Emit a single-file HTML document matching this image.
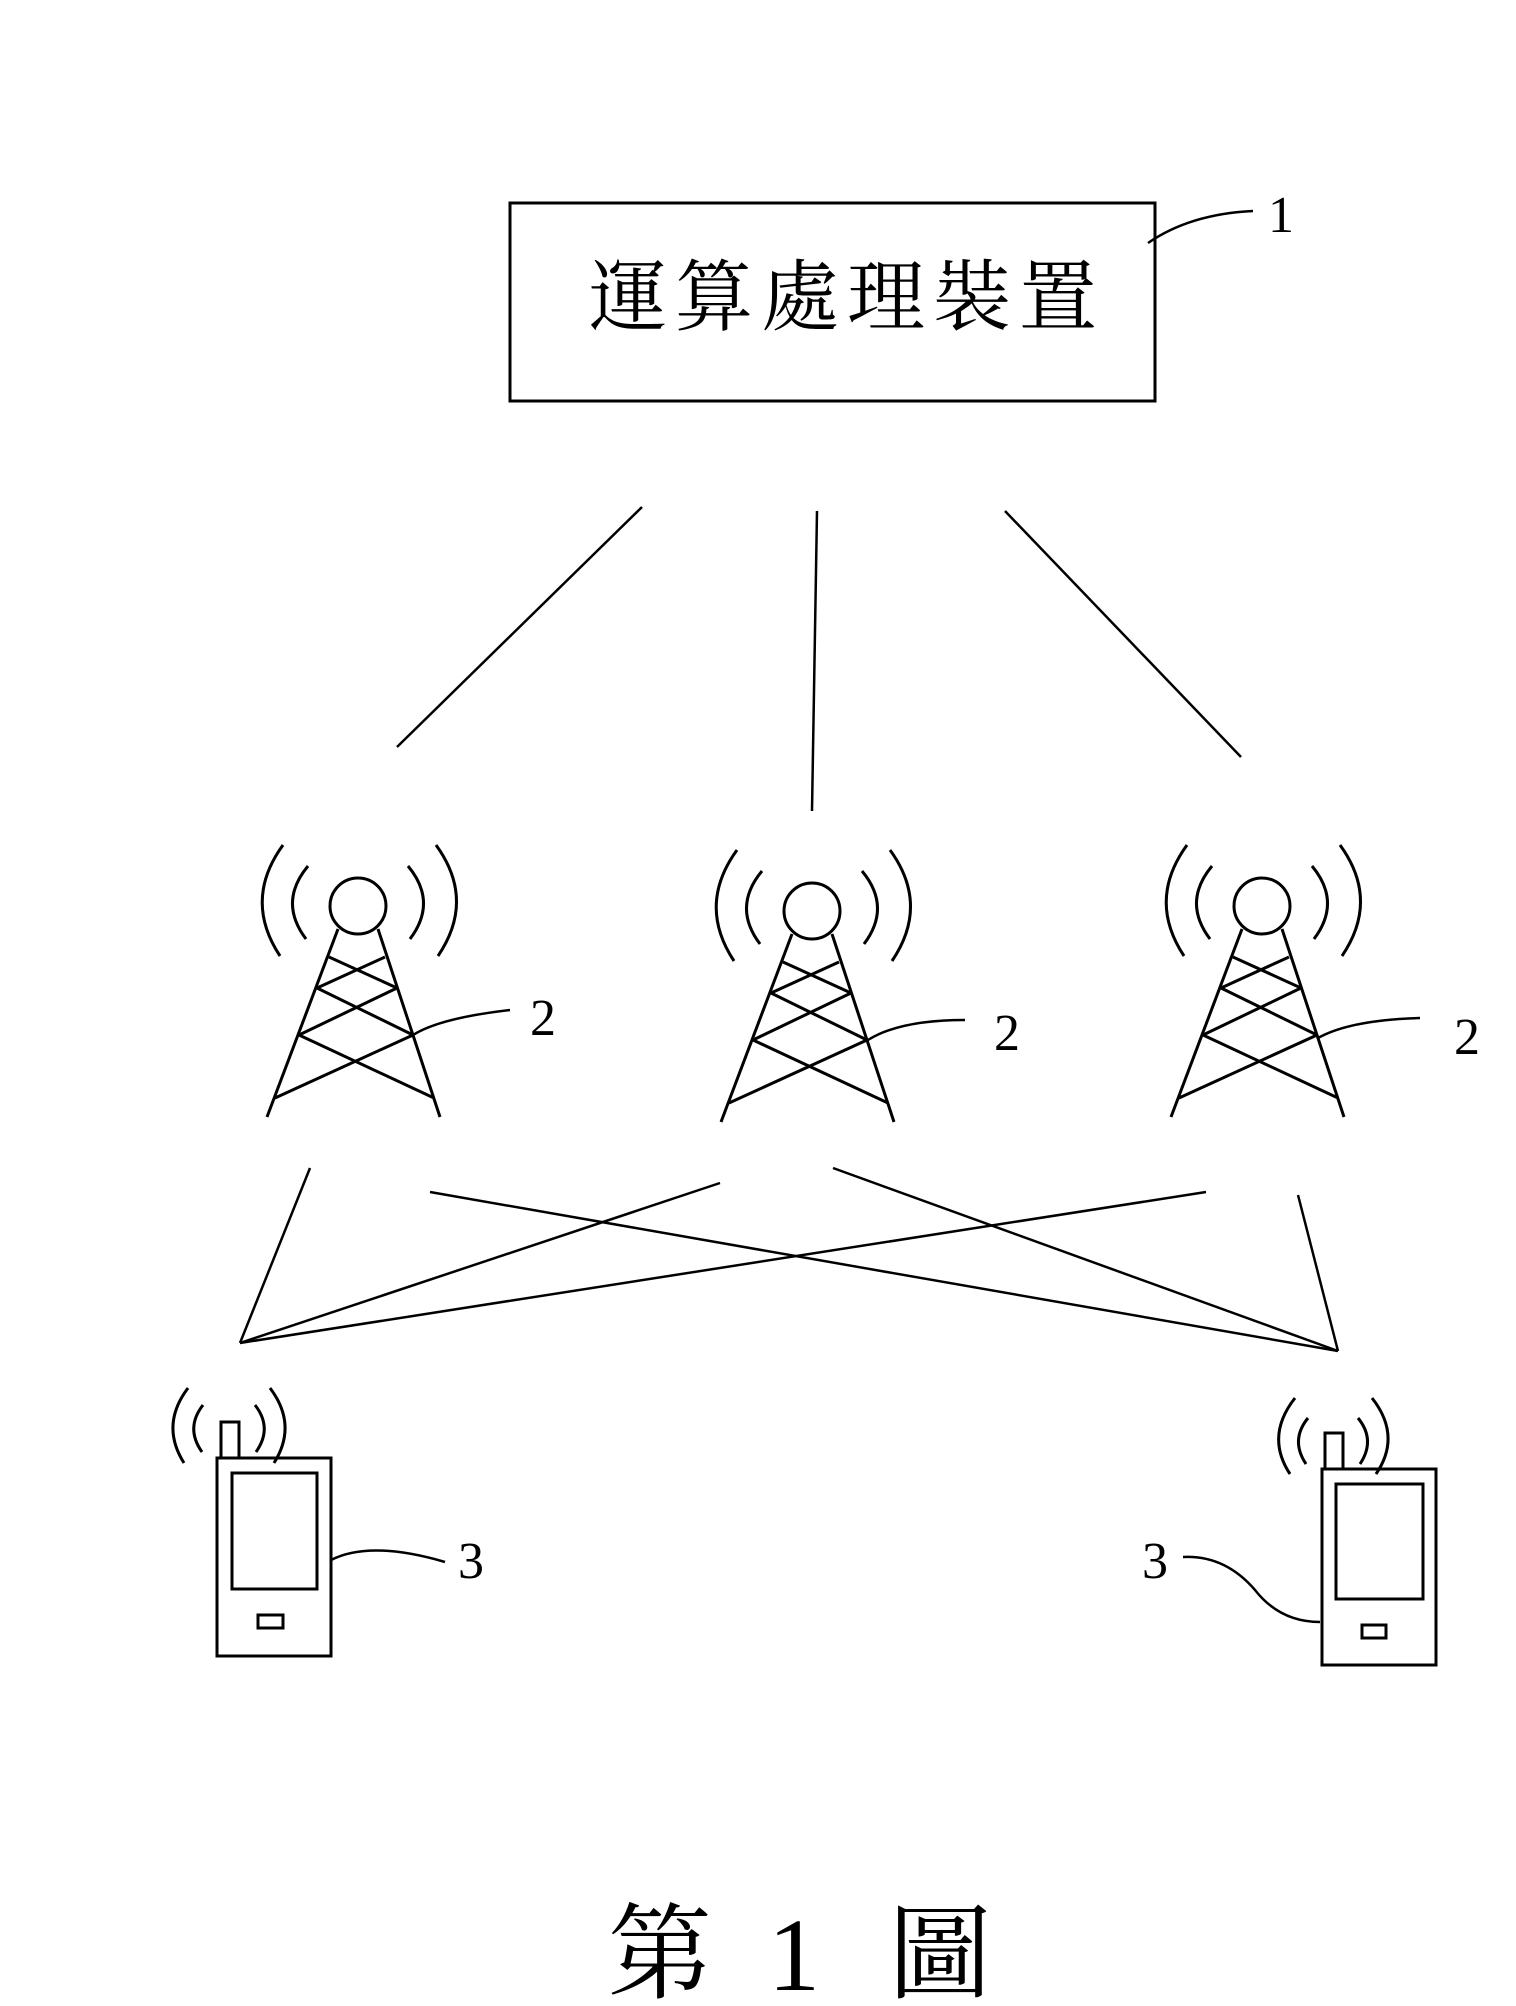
<!DOCTYPE html>
<html><head><meta charset="utf-8"><style>
html,body{margin:0;padding:0;background:#fff;}
svg{display:block;}
</style></head><body>
<svg width="1516" height="2006" viewBox="0 0 1516 2006" xmlns="http://www.w3.org/2000/svg">
<defs>
<g id="tower" fill="none" stroke="#000" stroke-width="3">
  <circle cx="0" cy="0" r="28"/>
  <line x1="-20" y1="23" x2="-91" y2="211"/>
  <line x1="20" y1="23" x2="82" y2="211"/>
  <line x1="-29" y1="51" x2="39" y2="82"/>
  <line x1="27" y1="51" x2="-41" y2="82"/>
  <line x1="-41" y1="82" x2="55" y2="129"/>
  <line x1="39" y1="82" x2="-59" y2="129"/>
  <line x1="-59" y1="129" x2="76" y2="192"/>
  <line x1="55" y1="129" x2="-83" y2="192"/>
  <path d="M-50,-40 Q-80,-4 -52,33"/>
  <path d="M50,-40 Q80,-4 52,33"/>
  <path d="M-75,-61 Q-115,-6 -78,50"/>
  <path d="M78,-61 Q118,-6 80,50"/>
</g>
</defs>

<!-- box -->
<rect x="510" y="203" width="645" height="198" fill="none" stroke="#000" stroke-width="3"/>
<text x="589" y="324" font-family="'Liberation Serif','Noto Serif CJK SC',serif" font-size="78" letter-spacing="8">運算處理裝置</text>
<path d="M1148,243 Q1190,214 1253,211" fill="none" stroke="#000" stroke-width="2.5"/>
<text x="1268" y="232" font-family="'Liberation Serif',serif" font-size="52" transform="scale(1,1)">1</text>

<!-- box to towers -->
<g stroke="#000" stroke-width="2.5">
<line x1="642" y1="507" x2="397" y2="747"/>
<line x1="817" y1="511" x2="812" y2="811"/>
<line x1="1005" y1="511" x2="1241" y2="757"/>
</g>

<use href="#tower" x="358" y="906"/>
<use href="#tower" x="812" y="911"/>
<use href="#tower" x="1262" y="906"/>

<!-- tower labels -->
<g fill="none" stroke="#000" stroke-width="2.5">
<path d="M413,1035 Q440,1018 510,1010"/>
<path d="M868,1040 Q900,1020 965,1020"/>
<path d="M1318,1038 Q1350,1020 1420,1018"/>
</g>
<g font-family="'Liberation Serif',serif" font-size="52">
<text x="530" y="1035">2</text>
<text x="994" y="1050">2</text>
<text x="1454" y="1054">2</text>
</g>

<!-- lower cross lines -->
<g stroke="#000" stroke-width="2.5">
<line x1="240" y1="1343" x2="310" y2="1168"/>
<line x1="240" y1="1343" x2="720" y2="1183"/>
<line x1="240" y1="1343" x2="1206" y2="1192"/>
<line x1="1338" y1="1351" x2="1298" y2="1195"/>
<line x1="1338" y1="1351" x2="833" y2="1168"/>
<line x1="1338" y1="1351" x2="430" y2="1192"/>
</g>

<!-- left phone -->
<g fill="none" stroke="#000" stroke-width="3">
<rect x="217" y="1458" width="114" height="198"/>
<rect x="232" y="1473" width="85" height="116"/>
<rect x="258" y="1615" width="25" height="13"/>
<rect x="221" y="1422" width="18" height="36"/>
<path d="M203,1405 Q185,1428 202,1452"/>
<path d="M255,1405 Q273,1428 256,1452"/>
<path d="M188,1388 Q160,1425 184,1463"/>
<path d="M270,1388 Q298,1425 274,1463"/>
<path d="M331,1560 Q370,1540 445,1562" stroke-width="2.5"/>
</g>
<text x="458" y="1578" font-family="'Liberation Serif',serif" font-size="52">3</text>

<!-- right phone -->
<g fill="none" stroke="#000" stroke-width="3">
<rect x="1322" y="1469" width="114" height="196"/>
<rect x="1336" y="1484" width="87" height="115"/>
<rect x="1362" y="1625" width="24" height="13"/>
<rect x="1325" y="1433" width="18" height="36"/>
<path d="M1308,1418 Q1290,1440 1306,1464"/>
<path d="M1358,1418 Q1376,1440 1360,1464"/>
<path d="M1295,1398 Q1265,1436 1290,1474"/>
<path d="M1372,1398 Q1402,1436 1376,1474"/>
<path d="M1183,1557 Q1225,1555 1255,1590 Q1280,1622 1320,1622" stroke-width="2.5"/>
</g>
<text x="1142" y="1578" font-family="'Liberation Serif',serif" font-size="52">3</text>

<!-- caption -->
<g font-family="'Liberation Serif','Noto Serif CJK TC','Noto Serif CJK SC',serif" font-size="104">
<text x="608" y="1990">第</text>
<text x="768" y="1990">1</text>
<text x="888" y="1990">圖</text>
</g>
</svg>
</body></html>
